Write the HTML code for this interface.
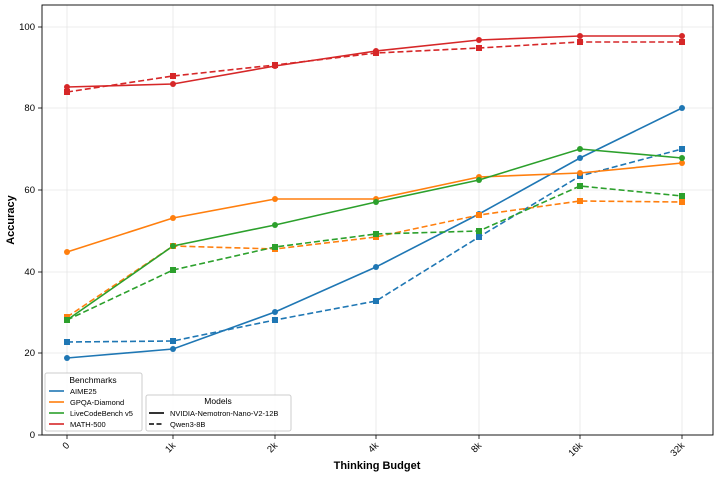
<!DOCTYPE html><html><head><style>body{margin:0;background:#fff}svg{display:block;font-family:"Liberation Sans","DejaVu Sans",sans-serif}</style></head><body>
<svg width="719" height="477" viewBox="0 0 719 477">
<g stroke="#e6e6e6" stroke-width="0.8">
<line x1="42" y1="435" x2="713" y2="435"/><line x1="42" y1="353" x2="713" y2="353"/><line x1="42" y1="272" x2="713" y2="272"/><line x1="42" y1="190" x2="713" y2="190"/><line x1="42" y1="108" x2="713" y2="108"/><line x1="42" y1="27" x2="713" y2="27"/>
<line x1="67" y1="5" x2="67" y2="435"/><line x1="173" y1="5" x2="173" y2="435"/><line x1="275" y1="5" x2="275" y2="435"/><line x1="376" y1="5" x2="376" y2="435"/><line x1="479" y1="5" x2="479" y2="435"/><line x1="580" y1="5" x2="580" y2="435"/><line x1="682" y1="5" x2="682" y2="435"/>
</g>
<rect x="42" y="5" width="671" height="430" fill="none" stroke="#000" stroke-width="0.9"/>
<g stroke="#000" stroke-width="0.8">
<line x1="38" y1="435" x2="42" y2="435"/><line x1="38" y1="353" x2="42" y2="353"/><line x1="38" y1="272" x2="42" y2="272"/><line x1="38" y1="190" x2="42" y2="190"/><line x1="38" y1="108" x2="42" y2="108"/><line x1="38" y1="27" x2="42" y2="27"/>
<line x1="67" y1="435" x2="67" y2="439"/><line x1="173" y1="435" x2="173" y2="439"/><line x1="275" y1="435" x2="275" y2="439"/><line x1="376" y1="435" x2="376" y2="439"/><line x1="479" y1="435" x2="479" y2="439"/><line x1="580" y1="435" x2="580" y2="439"/><line x1="682" y1="435" x2="682" y2="439"/>
</g>
<g font-size="9.5" text-anchor="end" fill="#000">
<text x="35" y="438">0</text><text x="35" y="356">20</text><text x="35" y="275">40</text><text x="35" y="193">60</text><text x="35" y="111">80</text><text x="35" y="30">100</text>
</g>
<g font-size="9.5" text-anchor="end">
<text transform="translate(70,446) rotate(-45)">0</text>
<text transform="translate(176,446) rotate(-45)">1k</text>
<text transform="translate(278,446) rotate(-45)">2k</text>
<text transform="translate(379,446) rotate(-45)">4k</text>
<text transform="translate(482,446) rotate(-45)">8k</text>
<text transform="translate(583,446) rotate(-45)">16k</text>
<text transform="translate(685,446) rotate(-45)">32k</text>
</g>
<text x="377" y="469" font-size="11" font-weight="bold" text-anchor="middle">Thinking Budget</text>
<text transform="translate(14,220) rotate(-90)" font-size="11" font-weight="bold" text-anchor="middle">Accuracy</text>
<defs>
<g id="c"><circle r="3"/></g><g id="s"><rect x="-3" y="-3" width="6" height="6"/></g>
</defs>
<g fill="none" stroke-width="1.6">
<polyline stroke="#1f77b4" points="67,358 173,349 275,312 376,267 479,214 580,158 682,108"/>
<polyline stroke="#1f77b4" stroke-dasharray="6,3" points="67,342 173,341 275,320 376,301 479,237 580,176 682,149"/>
<polyline stroke="#ff7f0e" points="67,252 173,218 275,199 376,199 479,177 580,173 682,163"/>
<polyline stroke="#ff7f0e" stroke-dasharray="6,3" points="67,317 173,246 275,249 376,237 479,215 580,201 682,202"/>
<polyline stroke="#2ca02c" points="67,320 173,246 275,225 376,202 479,180 580,149 682,158"/>
<polyline stroke="#2ca02c" stroke-dasharray="6,3" points="67,320 173,270 275,247 376,234 479,231 580,186 682,196"/>
<polyline stroke="#d62728" points="67,87 173,84 275,66 376,51 479,40 580,36 682,36"/>
<polyline stroke="#d62728" stroke-dasharray="6,3" points="67,92 173,76 275,65 376,53 479,48 580,42 682,42"/>
</g>
<g fill="#1f77b4"><use href="#c" x="67" y="358"/><use href="#c" x="173" y="349"/><use href="#c" x="275" y="312"/><use href="#c" x="376" y="267"/><use href="#c" x="479" y="214"/><use href="#c" x="580" y="158"/><use href="#c" x="682" y="108"/>
<use href="#s" x="67" y="342"/><use href="#s" x="173" y="341"/><use href="#s" x="275" y="320"/><use href="#s" x="376" y="301"/><use href="#s" x="479" y="237"/><use href="#s" x="580" y="176"/><use href="#s" x="682" y="149"/></g>
<g fill="#ff7f0e"><use href="#c" x="67" y="252"/><use href="#c" x="173" y="218"/><use href="#c" x="275" y="199"/><use href="#c" x="376" y="199"/><use href="#c" x="479" y="177"/><use href="#c" x="580" y="173"/><use href="#c" x="682" y="163"/>
<use href="#s" x="67" y="317"/><use href="#s" x="173" y="246"/><use href="#s" x="275" y="249"/><use href="#s" x="376" y="237"/><use href="#s" x="479" y="215"/><use href="#s" x="580" y="201"/><use href="#s" x="682" y="202"/></g>
<g fill="#2ca02c"><use href="#c" x="67" y="320"/><use href="#c" x="173" y="246"/><use href="#c" x="275" y="225"/><use href="#c" x="376" y="202"/><use href="#c" x="479" y="180"/><use href="#c" x="580" y="149"/><use href="#c" x="682" y="158"/>
<use href="#s" x="67" y="320"/><use href="#s" x="173" y="270"/><use href="#s" x="275" y="247"/><use href="#s" x="376" y="234"/><use href="#s" x="479" y="231"/><use href="#s" x="580" y="186"/><use href="#s" x="682" y="196"/></g>
<g fill="#d62728"><use href="#c" x="67" y="87"/><use href="#c" x="173" y="84"/><use href="#c" x="275" y="66"/><use href="#c" x="376" y="51"/><use href="#c" x="479" y="40"/><use href="#c" x="580" y="36"/><use href="#c" x="682" y="36"/>
<use href="#s" x="67" y="92"/><use href="#s" x="173" y="76"/><use href="#s" x="275" y="65"/><use href="#s" x="376" y="53"/><use href="#s" x="479" y="48"/><use href="#s" x="580" y="42"/><use href="#s" x="682" y="42"/></g>
<rect x="45" y="373" width="97" height="58" rx="2" fill="#fff" fill-opacity="0.85" stroke="#ccc"/>
<text x="93" y="383" font-size="8.5" text-anchor="middle">Benchmarks</text>
<g font-size="7.5"><text x="70" y="394">AIME25</text><text x="70" y="405">GPQA-Diamond</text><text x="70" y="416">LiveCodeBench v5</text><text x="70" y="427">MATH-500</text></g>
<g stroke-width="1.6"><line x1="49" y1="391" x2="64" y2="391" stroke="#1f77b4"/><line x1="49" y1="402" x2="64" y2="402" stroke="#ff7f0e"/><line x1="49" y1="413" x2="64" y2="413" stroke="#2ca02c"/><line x1="49" y1="424" x2="64" y2="424" stroke="#d62728"/></g>
<rect x="146" y="395" width="145" height="36" rx="2" fill="#fff" fill-opacity="0.85" stroke="#ccc"/>
<text x="218" y="404" font-size="8.5" text-anchor="middle">Models</text>
<g font-size="7.5"><text x="170" y="416">NVIDIA-Nemotron-Nano-V2-12B</text><text x="170" y="427">Qwen3-8B</text></g>
<g stroke="#000" stroke-width="1.6"><line x1="149" y1="413" x2="164" y2="413"/><line x1="149" y1="424" x2="164" y2="424" stroke-dasharray="5,2.5"/></g>
</svg>
</body></html>
